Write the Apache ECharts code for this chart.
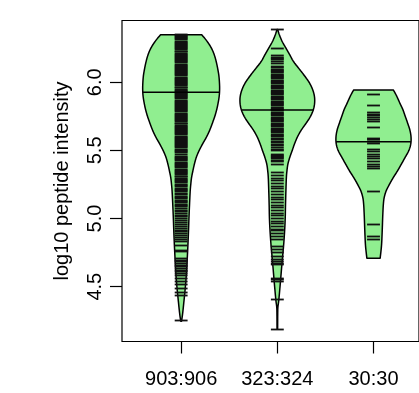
<!DOCTYPE html>
<html><head><meta charset="utf-8">
<script src="https://cdn.jsdelivr.net/npm/echarts@6/dist/echarts.min.js"></script>
<style>html,body{margin:0;padding:0;background:#fff}#c{width:419px;height:393px}</style>
</head><body><div id="c"></div>
<script>
// ---- data ----
const categories = ['903:906', '323:324', '30:30'];
const yTicks = [4.5, 5.0, 5.5, 6.0];
const medians = [5.927, 5.797, 5.564];

// bean outlines: level (log10 intensity) and half width (in category units)
const bean1Levels = [6.349, 6.30, 6.25, 6.20, 6.15, 6.10, 6.05, 6.00, 5.95, 5.90, 5.85, 5.80, 5.75, 5.70, 5.65, 5.60, 5.55, 5.50, 5.45, 5.40, 5.35, 5.30, 5.25, 5.20, 5.10, 5.00, 4.90, 4.80, 4.70, 4.60, 4.50, 4.40, 4.30, 4.247];
const bean1Widths = [0.214, 0.27, 0.315, 0.345, 0.365, 0.38, 0.392, 0.398, 0.4, 0.396, 0.385, 0.37, 0.35, 0.325, 0.298, 0.265, 0.225, 0.188, 0.158, 0.138, 0.122, 0.108, 0.1, 0.094, 0.087, 0.081, 0.076, 0.07, 0.063, 0.055, 0.044, 0.03, 0.015, 0.004];
const bean2Levels = [6.387, 6.35, 6.30, 6.25, 6.20, 6.15, 6.10, 6.05, 6.00, 5.95, 5.90, 5.85, 5.80, 5.75, 5.70, 5.65, 5.60, 5.55, 5.50, 5.45, 5.40, 5.35, 5.30, 5.20, 5.10, 5.00, 4.90, 4.80, 4.70, 4.60, 4.50, 4.40, 4.35, 4.30, 4.188];
const bean2Widths = [0.004, 0.02, 0.05, 0.09, 0.13, 0.17, 0.225, 0.28, 0.33, 0.365, 0.385, 0.388, 0.375, 0.345, 0.3, 0.25, 0.21, 0.18, 0.155, 0.13, 0.11, 0.1, 0.094, 0.089, 0.085, 0.082, 0.075, 0.065, 0.052, 0.04, 0.028, 0.015, 0.006, 0.004, 0.003];
const bean3Levels = [5.944, 5.90, 5.85, 5.80, 5.75, 5.70, 5.65, 5.60, 5.55, 5.50, 5.45, 5.40, 5.35, 5.30, 5.25, 5.20, 5.15, 5.10, 5.05, 5.00, 4.90, 4.80, 4.709];
const bean3Widths = [0.206, 0.24, 0.272, 0.305, 0.33, 0.355, 0.378, 0.39, 0.388, 0.368, 0.33, 0.29, 0.25, 0.205, 0.165, 0.13, 0.11, 0.102, 0.098, 0.095, 0.09, 0.083, 0.069];

// individual observations (bean lines)
const bean1Values = [
  6.349, 6.342, 6.333, 6.326, 6.318, 6.31, 6.301, 6.294, 6.286, 6.277, 6.27, 6.262, 6.253, 6.246, 6.238, 6.229, 6.222, 6.214,
  6.205, 6.198, 6.19, 6.181, 6.174, 6.166, 6.157, 6.15, 6.142, 6.133, 6.126, 6.118, 6.109, 6.102, 6.094, 6.085, 6.078, 6.07,
  6.061, 6.054, 6.046, 6.037, 6.03, 6.022, 6.013, 6.006, 5.998, 5.989, 5.982, 5.974, 5.965, 5.958, 5.95, 5.941, 5.934, 5.926,
  5.917, 5.91, 5.902, 5.893, 5.886, 5.878, 5.869, 5.862, 5.854, 5.845, 5.838, 5.83, 5.821, 5.814, 5.806, 5.797, 5.79, 5.782,
  5.773, 5.766, 5.758, 5.749, 5.742, 5.734, 5.725, 5.718, 5.71, 5.701, 5.694, 5.686, 5.677, 5.67, 5.662, 5.653, 5.646, 5.638,
  5.629, 5.622, 5.614, 5.605, 5.598, 5.59, 5.581, 5.574, 5.566, 5.557, 5.55, 5.542, 5.533, 5.526, 5.518, 5.509, 5.502,
  5.49, 5.482, 5.47, 5.455, 5.447, 5.44, 5.432, 5.425, 5.41, 5.402, 5.395, 5.387, 5.38, 5.372, 5.36, 5.352, 5.345, 5.337,
  5.33, 5.32, 5.312, 5.305, 5.297, 5.285, 5.277, 5.27, 5.262, 5.25, 5.242, 5.235, 5.222, 5.215, 5.205, 5.197, 5.185, 5.177,
  5.165, 5.155, 5.147, 5.135, 5.125, 5.115, 5.105, 5.095, 5.085, 5.072, 5.06, 5.05, 5.04, 5.025, 5.012, 5.0,
  4.985, 4.97, 4.955, 4.94, 4.925, 4.912, 4.902, 4.887, 4.873, 4.858, 4.843, 4.829, 4.804, 4.768, 4.755,
  4.706, 4.694, 4.682, 4.669, 4.657, 4.645, 4.632, 4.62, 4.608, 4.596, 4.584, 4.559, 4.539, 4.515, 4.49, 4.461, 4.437, 4.25
];
const bean2Values = [
  6.384, 6.25, 6.195, 6.183, 6.173, 6.164, 6.154, 6.139,
  6.114, 6.105, 6.096, 6.087, 6.078, 6.069, 6.06, 6.051, 6.042, 6.033, 6.024, 6.015, 6.006, 5.997, 5.988, 5.979, 5.97, 5.961,
  5.952, 5.943, 5.934, 5.925, 5.916, 5.907, 5.898, 5.889, 5.88, 5.871, 5.862, 5.853, 5.844, 5.835, 5.826, 5.817, 5.808, 5.799,
  5.79, 5.781, 5.772, 5.763, 5.754, 5.745, 5.736, 5.727, 5.718, 5.709, 5.7, 5.691, 5.682, 5.673, 5.664, 5.655, 5.646, 5.637,
  5.628, 5.619, 5.61, 5.6, 5.59, 5.578, 5.567, 5.556, 5.545, 5.534, 5.522, 5.51, 5.496,
  5.469, 5.46, 5.452, 5.445, 5.437, 5.428, 5.42, 5.393,
  5.335, 5.315, 5.296, 5.276, 5.256, 5.237, 5.217, 5.197, 5.178, 5.158, 5.138, 5.119, 5.099, 5.079, 5.06, 5.04, 5.02, 5.0,
  4.981, 4.961, 4.941, 4.923, 4.91, 4.89, 4.871, 4.846, 4.798, 4.773, 4.749, 4.724, 4.696, 4.684, 4.672, 4.66,
  4.562, 4.55, 4.537, 4.403, 4.188
];
const bean3Values = [
  5.907, 5.828, 5.78, 5.765, 5.753, 5.74, 5.729, 5.711, 5.67, 5.589, 5.577, 5.564, 5.552,
  5.51, 5.491, 5.472, 5.454, 5.437, 5.417, 5.398, 5.381, 5.364, 5.197, 4.953, 4.867, 4.843
];

// ---- rendering ----
const outlines = [
  [bean1Levels, bean1Widths],
  [bean2Levels, bean2Widths],
  [bean3Levels, bean3Widths]
];
const beanValues = [bean1Values, bean2Values, bean3Values];
const LINE_HALF = 0.067;

function catmull(pts, steps) {
  const out = [];
  const n = pts.length;
  for (let i = 0; i < n - 1; i++) {
    const p0 = pts[Math.max(i - 1, 0)], p1 = pts[i], p2 = pts[i + 1], p3 = pts[Math.min(i + 2, n - 1)];
    for (let s = 0; s < steps; s++) {
      const t = s / steps, t2 = t * t, t3 = t2 * t;
      const f = (a, b, c, d) => 0.5 * ((2 * b) + (-a + c) * t + (2 * a - 5 * b + 4 * c - d) * t2 + (-a + 3 * b - 3 * c + d) * t3);
      out.push([f(p0[0], p1[0], p2[0], p3[0]), f(p0[1], p1[1], p2[1], p3[1])]);
    }
  }
  out.push(pts[n - 1]);
  return out;
}

function widthAt(idx, v) {
  const L = outlines[idx][0], W = outlines[idx][1];
  for (let i = 0; i < L.length - 1; i++) {
    if (v <= L[i] && v >= L[i + 1]) {
      const t = (L[i] - v) / (L[i] - L[i + 1]);
      return W[i] + t * (W[i + 1] - W[i]);
    }
  }
  return 0;
}

const lineData = [];
beanValues.forEach((arr, i) => arr.forEach(v => lineData.push([i + 1, v])));

const chart = echarts.init(document.getElementById('c'), null, { renderer: 'canvas' });
const FONT = 'Liberation Sans, Arial, Helvetica, sans-serif';
chart.setOption({
  animation: false,
  backgroundColor: '#fff',
  grid: { left: 122, right: -3, top: 20.5, bottom: 51.5, show: true, borderColor: '#000', borderWidth: 1.2, backgroundColor: 'transparent' },
  xAxis: {
    type: 'value', min: 0.385, max: 3.473,
    splitLine: { show: false },
    axisLine: { show: false },
    axisTick: { show: true, length: 12, inside: false, customValues: [1, 2, 3], lineStyle: { color: '#000', width: 1.2 } },
    axisLabel: { show: true, customValues: [1, 2, 3], margin: 28, fontSize: 20, color: '#000', fontFamily: FONT,
      formatter: v => categories[Math.round(v) - 1] }
  },
  yAxis: {
    type: 'value', min: 4.098, max: 6.453,
    name: 'log10 peptide intensity', nameLocation: 'middle', nameRotate: 90, nameGap: 50,
    nameTextStyle: { fontSize: 20, color: '#000', fontFamily: FONT },
    splitLine: { show: false },
    axisLine: { show: false },
    axisTick: { show: true, length: 12, inside: false, customValues: yTicks, lineStyle: { color: '#000', width: 1.2 } },
    axisLabel: { show: true, customValues: yTicks, rotate: 90, margin: 17, fontSize: 20, color: '#000', fontFamily: FONT,
      formatter: v => v.toFixed(1) }
  },
  series: [
    {
      type: 'custom', z: 2,
      data: [[1, 0], [2, 1], [3, 2]],
      renderItem: (params, api) => {
        const pos = api.value(0), idx = api.value(1);
        const L = outlines[idx][0], W = outlines[idx][1];
        const right = L.map((v, i) => api.coord([pos + W[i], v]));
        const left = L.map((v, i) => api.coord([pos - W[i], v]));
        const r = catmull(right, 6);
        const l = catmull(left, 6).reverse();
        return { type: 'polygon', shape: { points: r.concat(l) },
          style: { fill: '#90EE90', stroke: '#000', lineWidth: 1.5, lineJoin: 'round' } };
      }
    },
    {
      type: 'custom', z: 3,
      data: lineData,
      renderItem: (params, api) => {
        const pos = api.value(0), v = api.value(1);
        const a = api.coord([pos - LINE_HALF, v]), b = api.coord([pos + LINE_HALF, v]);
        const y = Math.round(a[1] - 0.5) + 0.5;
        return { type: 'line', shape: { x1: a[0], y1: y, x2: b[0], y2: y },
          style: { stroke: '#111', lineWidth: 1.8 } };
      }
    },
    {
      type: 'custom', z: 4,
      data: medians.map((m, i) => [i + 1, m, i]),
      renderItem: (params, api) => {
        const pos = api.value(0), m = api.value(1), idx = api.value(2);
        const w = widthAt(idx, m);
        const a = api.coord([pos - w, m]), b = api.coord([pos + w, m]);
        return { type: 'line', shape: { x1: a[0], y1: a[1], x2: b[0], y2: b[1] },
          style: { stroke: '#000', lineWidth: 1.5 } };
      }
    }
  ]
});
</script></body></html>
